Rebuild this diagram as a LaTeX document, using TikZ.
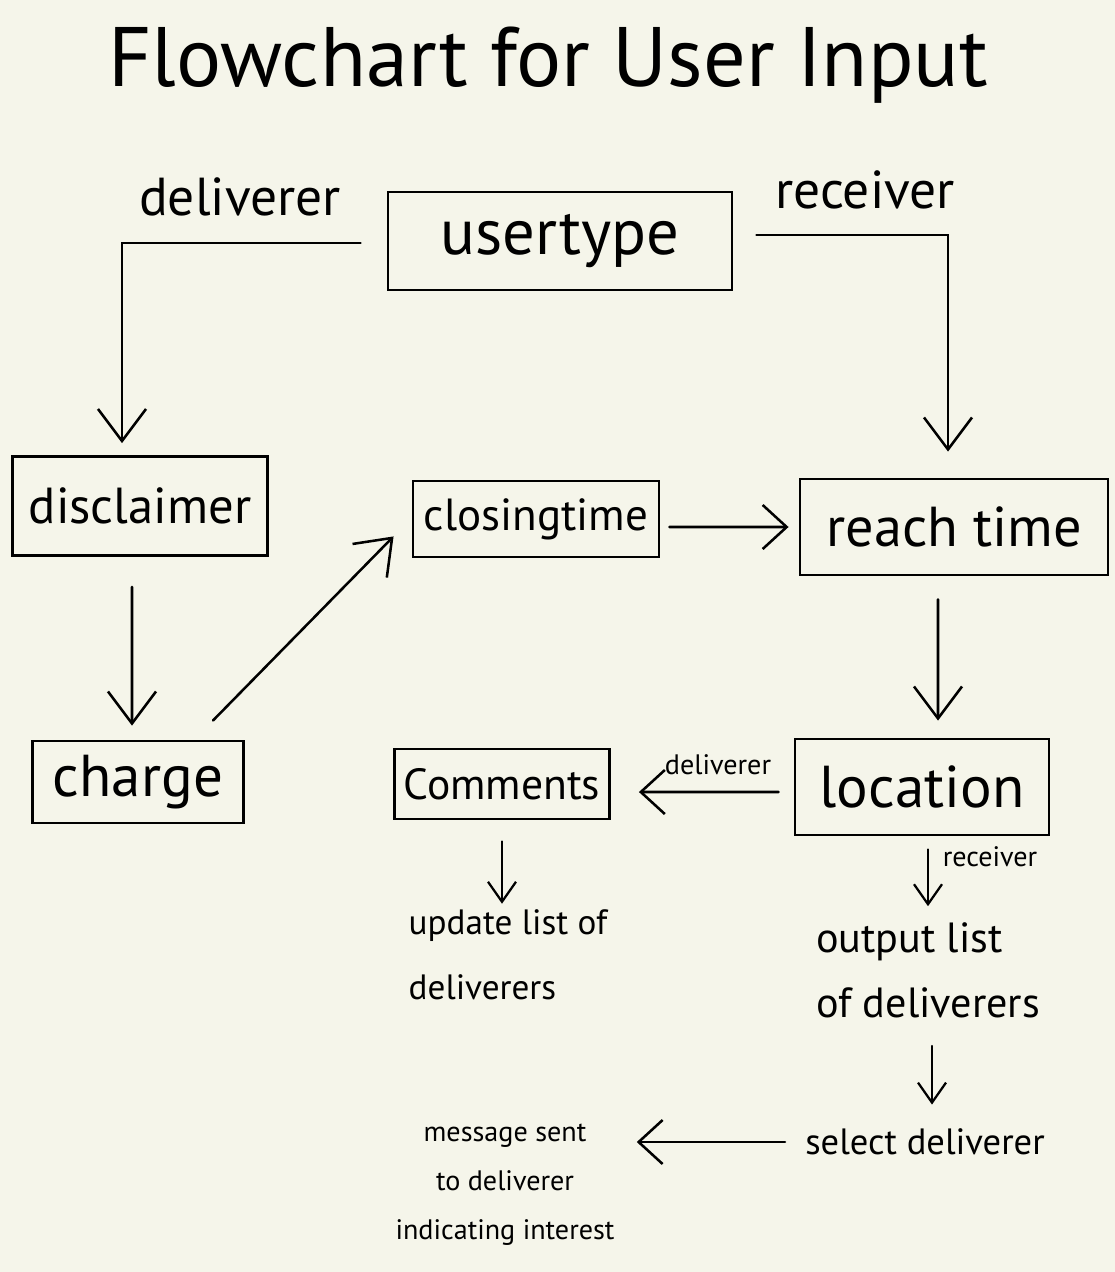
\documentclass[tikz,border=0pt]{standalone}
\usepackage{fontspec}
\setmainfont{PT Sans}
\usetikzlibrary{arrows.meta}
\definecolor{paper}{HTML}{F5F5EA}

\begin{document}
\begin{tikzpicture}[x=0.025cm,y=-0.025cm,
  b/.style={rectangle,draw=black,line width=2pt,inner sep=0pt},
  t/.style={inner sep=0pt},
  a/.style={line width=1.8pt,line cap=round,-{Straight Barb[length=8mm,width=12mm,line width=1.8pt]}},
  ma/.style={line width=1.8pt,line cap=round,-{Straight Barb[length=6mm,width=11mm,line width=1.8pt]}},
  sa/.style={line width=1.6pt,line cap=round,-{Straight Barb[length=5mm,width=7mm,line width=1.6pt]}}]
  \fill[paper] (0,0) rectangle (1115,1272);

  \node[t,font=\fontsize{60}{64}\selectfont] (title) at (548,65) {Flowchart for User Input};

  % boxes
  \node[b,minimum width=8.6cm,minimum height=2.45cm,font=\fontsize{46}{50}\selectfont] (usertype) at (560,241) {usertype};
  \node[b,minimum width=6.375cm,minimum height=2.475cm,font=\fontsize{36}{40}\selectfont] (disclaimer) at (140,506) {disclaimer};
  \node[b,minimum width=6.15cm,minimum height=1.9cm,font=\fontsize{32}{36}\selectfont] (closingtime) at (536,519) {closingtime};
  \node[b,minimum width=7.7cm,minimum height=2.4cm,font=\fontsize{40}{44}\selectfont] (reachtime) at (954,527) {reach time};
  \node[b,minimum width=5.275cm,minimum height=2.05cm,font=\fontsize{42}{46}\selectfont] (charge) at (138,782) {charge};
  \node[b,minimum width=5.375cm,minimum height=1.75cm,font=\fontsize{31}{35}\selectfont] (comments) at (502,784) {Comments};
  \node[b,minimum width=6.35cm,minimum height=2.4cm,font=\fontsize{42}{46}\selectfont] (location) at (922,787) {location};

  % labels and plain steps
  \node[t,font=\fontsize{38}{42}\selectfont] (delivlbl) at (240,197) {deliverer};
  \node[t,font=\fontsize{38}{42}\selectfont] (recvlbl) at (865,190) {receiver};
  \node[t,align=left,font=\fontsize{25}{46}\selectfont] (update) at (508,955) {update list of\\deliverers};
  \node[t,align=left,font=\fontsize{30}{46}\selectfont] (output) at (928,970) {output list\\of deliverers};
  \node[t,font=\fontsize{26}{30}\selectfont] (select) at (925,1142) {select deliverer};
  \node[t,align=center,font=\fontsize{20}{35}\selectfont] (message) at (505,1185) {message sent\\to deliverer\\indicating interest};

  % connectors
  \draw[a,shorten <=0.65cm,shorten >=0.3cm] ([yshift=-0.05cm]usertype.west) -| ([xshift=-0.45cm]disclaimer.north);
  \draw[a,shorten <=0.575cm,shorten >=0.65cm] ([yshift=0.15cm]usertype.east) -| ([xshift=-0.15cm]reachtime.north);
  \draw[a,shorten <=0.75cm,shorten >=0.35cm] ([xshift=-0.2cm]disclaimer.south) -- ([xshift=-0.15cm]charge.north);
  \draw[a] ([xshift=-0.8cm,yshift=0.475cm]charge.north east) -- ([xshift=-0.45cm,yshift=0.55cm]closingtime.south west);
  \draw[ma,shorten <=0.225cm,shorten >=0.25cm] ([yshift=-0.2cm]closingtime.east) -- (reachtime.west);
  \draw[a,shorten <=0.575cm,shorten >=0.425cm] ([xshift=-0.4cm]reachtime.south) -- ([xshift=0.4cm]location.north);
  \draw[ma,shorten <=0.375cm,shorten >=0.7cm] ([yshift=-0.125cm]location.west) -- ([yshift=-0.2cm]comments.east);
  \node[t,font=\fontsize{20}{24}\selectfont] (dlbl) at (718,765) {deliverer};
  \draw[sa,shorten <=0.525cm,shorten >=0.15cm] (comments.south) -- (comments.south |- update.north);
  \draw[sa,shorten <=0.325cm,shorten >=0.4cm] ([xshift=0.15cm]location.south) -- ([xshift=0.15cm]location.south |- output.north);
  \node[t,font=\fontsize{20}{24}\selectfont] (rlbl) at (990,857) {receiver};
  \draw[sa,shorten <=0.4cm,shorten >=0.6cm] (932,1030) -- (select.north -| 932,1030);
  \draw[ma,shorten <=0.5cm,shorten >=0.55cm] (select.west) -- (select.west -| message.east);
\end{tikzpicture}
\end{document}
